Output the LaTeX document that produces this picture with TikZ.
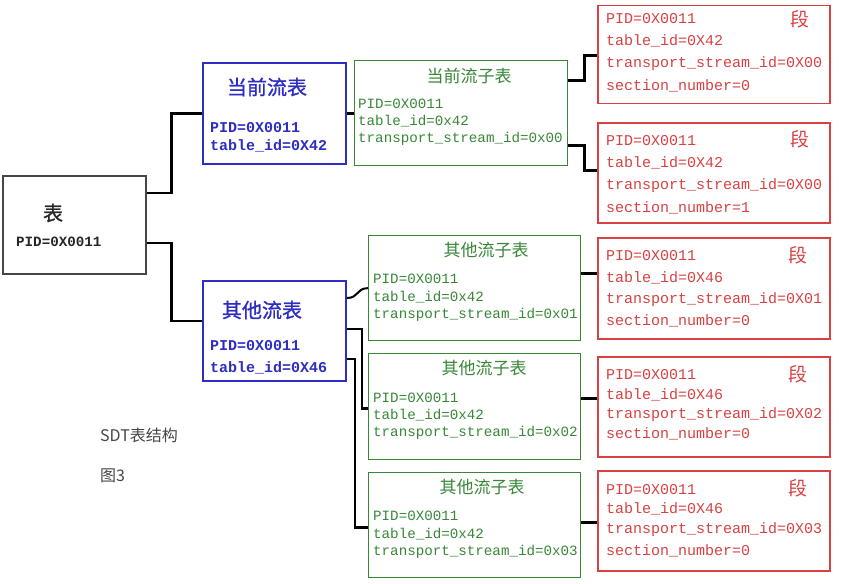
\documentclass[tikz,border=0pt]{standalone}
\usepackage{fontspec}
\setmainfont{Liberation Serif}
\setmonofont{Liberation Mono}
\newfontfamily\cjk{Noto Sans CJK SC}
\newfontfamily\cjkb[FakeBold=1.2]{Noto Sans CJK SC}
\definecolor{bblue}{RGB}{45,45,195}
\definecolor{ggreen}{RGB}{55,135,55}
\definecolor{rred}{RGB}{215,65,65}
\definecolor{ggray}{RGB}{70,70,70}
\begin{document}
\begin{tikzpicture}[x=1pt,y=-1pt,
  box/.style={draw, anchor=north west, inner sep=0pt, rectangle},
  mainbox/.style={box, draw=ggray, line width=1.6pt},
  bluebox/.style={box, draw=bblue, line width=2pt},
  greenbox/.style={box, draw=ggreen, line width=1.3pt},
  redbox/.style={box, draw=rred, line width=1.5pt},
  conn/.style={draw=black, line width=2.6pt},
  mt/.style={inner sep=0pt, anchor=base west, text=black!85, font=\ttfamily\bfseries\fontsize{14.2}{17}\selectfont},
  bt/.style={inner sep=0pt, anchor=base west, text=bblue, font=\ttfamily\bfseries\fontsize{15}{17}\selectfont},
  gt/.style={inner sep=0pt, anchor=base west, text=ggreen, font=\ttfamily\fontsize{14.2}{17}\selectfont},
  rt/.style={inner sep=0pt, anchor=base west, text=rred, font=\ttfamily\fontsize{15}{17}\selectfont},
  btitle/.style={inner sep=0pt, text=bblue, font=\cjkb\fontsize{20}{22}\selectfont},
  gtitle/.style={inner sep=0pt, text=ggreen, font=\cjk\fontsize{17}{19}\selectfont},
  rseg/.style={inner sep=0pt, text=rred, font=\cjk\fontsize{19}{21}\selectfont},
  mtitle/.style={inner sep=0pt, text=black!85, font=\cjkb\fontsize{20}{22}\selectfont},
  captxt/.style={inner sep=0pt, anchor=west, text=ggray, font=\cjk\fontsize{16}{18}\selectfont}
]
\useasboundingbox (0,0) rectangle (842,583);

% boxes
\node[mainbox, minimum width=143pt, minimum height=98pt] (tb) at (2,175) {};
\node[bluebox, minimum width=143pt, minimum height=101pt] (cur) at (202,62) {};
\node[greenbox, minimum width=213pt, minimum height=105pt] (cs) at (354,60) {};
\node[redbox, minimum width=232pt, minimum height=98pt] (r1) at (597,5) {};
\node[redbox, minimum width=232pt, minimum height=100pt] (r2) at (597,122) {};
\node[bluebox, minimum width=143pt, minimum height=100pt] (oth) at (202,280) {};
\node[greenbox, minimum width=212pt, minimum height=105pt] (os1) at (368,235) {};
\node[greenbox, minimum width=212pt, minimum height=106pt] (os2) at (368,353) {};
\node[greenbox, minimum width=212pt, minimum height=105pt] (os3) at (368,472) {};
\node[redbox, minimum width=232pt, minimum height=101pt] (r3) at (597,237) {};
\node[redbox, minimum width=232pt, minimum height=100pt] (r4) at (597,356) {};
\node[redbox, minimum width=232pt, minimum height=100pt] (r5) at (597,470) {};

% main box text
\node[mtitle] (tbt) at (53,213) {表};
\node[mt] (tbl) at (16,246) {PID=0X0011};

% current stream table
\node[btitle] (curt) at (267,87) {当前流表};
\foreach \ty/\tx [count=\i] in {127/PID=0X0011,145/table\_id=0X42}
  \node[bt] (curl\i) at (210,\ty+5) {\tx};

% current sub-table
\node[gtitle] (cst) at (469,76) {当前流子表};
\foreach \ty/\tx [count=\i] in {103/PID=0X0011,120/table\_id=0x42,137/transport\_stream\_id=0x00}
  \node[gt] (csl\i) at (358,\ty+5) {\tx};

% other stream table
\node[btitle] (otht) at (262,310) {其他流表};
\foreach \ty/\tx [count=\i] in {345/PID=0X0011,367/table\_id=0X46}
  \node[bt] (othl\i) at (210,\ty+5) {\tx};

% other sub-tables
\node[gtitle] (os1t) at (486,250) {其他流子表};
\foreach \ty/\tx [count=\i] in {278/PID=0X0011,296/table\_id=0x42,313/transport\_stream\_id=0x01}
  \node[gt] (os1l\i) at (373,\ty+5) {\tx};
\node[gtitle] (os2t) at (484,368) {其他流子表};
\foreach \ty/\tx [count=\i] in {397/PID=0X0011,414/table\_id=0x42,431/transport\_stream\_id=0x02}
  \node[gt] (os2l\i) at (373,\ty+5) {\tx};
\node[gtitle] (os3t) at (482,487) {其他流子表};
\foreach \ty/\tx [count=\i] in {515/PID=0X0011,533/table\_id=0x42,550/transport\_stream\_id=0x03}
  \node[gt] (os3l\i) at (373,\ty+5) {\tx};

% sections
\node[rseg] (r1s) at (800,19) {段};
\foreach \ty/\tx [count=\i] in {19/PID=0X0011,41/table\_id=0X42,63/transport\_stream\_id=0X00,86/section\_number=0}
  \node[rt] (r1l\i) at (606,\ty+5) {\tx};
\node[rseg] (r2s) at (800,139) {段};
\foreach \ty/\tx [count=\i] in {140/PID=0X0011,162/table\_id=0X42,184/transport\_stream\_id=0X00,207/section\_number=1}
  \node[rt] (r2l\i) at (606,\ty+5) {\tx};
\node[rseg] (r3s) at (798,255) {段};
\foreach \ty/\tx [count=\i] in {255/PID=0X0011,277/table\_id=0X46,298/transport\_stream\_id=0X01,320/section\_number=0}
  \node[rt] (r3l\i) at (606,\ty+5) {\tx};
\node[rseg] (r4s) at (798,374) {段};
\foreach \ty/\tx [count=\i] in {374/PID=0X0011,394/table\_id=0X46,413/transport\_stream\_id=0X02,433/section\_number=0}
  \node[rt] (r4l\i) at (606,\ty+5) {\tx};
\node[rseg] (r5s) at (798,488) {段};
\foreach \ty/\tx [count=\i] in {489/PID=0X0011,508/table\_id=0X46,528/transport\_stream\_id=0X03,550/section\_number=0}
  \node[rt] (r5l\i) at (606,\ty+5) {\tx};

% caption
\node[captxt] (cap1) at (100,435) {SDT表结构};
\node[captxt] (cap2) at (100,476) {图3};

% connectors
\draw[conn] ([yshift=32pt]tb.east) -- ++(25,0) |- (cur.west);
\draw[conn] ([yshift=-18pt]tb.east) -- ++(25,0) |- ([yshift=10pt]oth.west);
\draw[conn] (cur.east) -- (cs.west |- cur.east);
\draw[conn] ([yshift=32.5pt]cs.east) -- ++(16,0) |- ([yshift=-1pt]r1.west);
\draw[conn] ([yshift=-32.5pt]cs.east) -- ++(16,0) |- ([yshift=2pt]r2.west);
\draw[conn, line width=2pt] ([yshift=33pt]oth.east) .. controls ++(12,0) and ++(-12,0) .. (os1.west);
\draw[conn] ([yshift=2pt]oth.east) -- ++(15,0) |- ([yshift=-2pt]os2.west);
\draw[conn] ([yshift=-28pt]oth.east) -- ++(8,0) |- ([yshift=-2.5pt]os3.west);
\draw[conn] ([yshift=14.5pt]os1.east) coordinate (c1) -- (c1 -| r3.west);
\draw[conn] ([yshift=8pt]os2.east) coordinate (c2) -- (c2 -| r4.west);
\draw[conn] ([yshift=2.5pt]os3.east) coordinate (c3) -- (c3 -| r5.west);
\end{tikzpicture}
\end{document}
